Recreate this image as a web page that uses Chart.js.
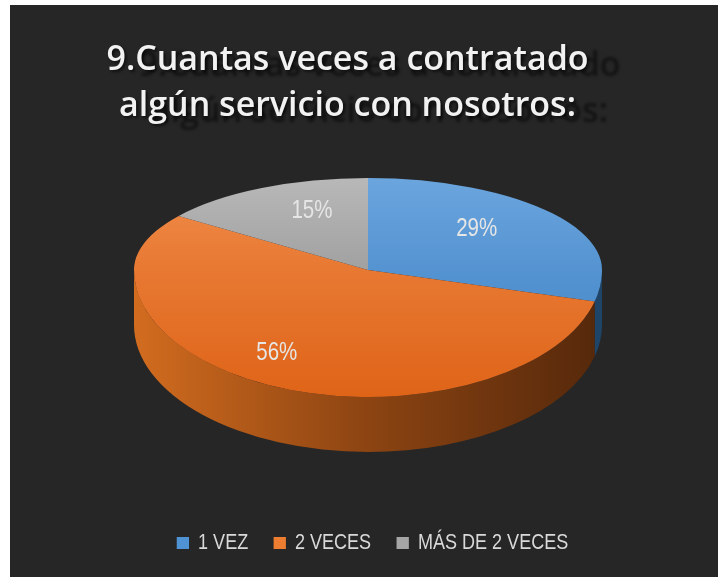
<!DOCTYPE html>
<html>
<head>
<meta charset="utf-8">
<script src="https://cdn.jsdelivr.net/npm/chart.js@4.4.1/dist/chart.umd.min.js"></script>
<style>
  html, body { margin: 0; padding: 0; background: #ffffff; width: 718px; height: 577px; overflow: hidden; }
  #wrap { position: absolute; left: 10px; top: 5px; width: 708px; height: 572px; background: #262626; }
  #chart { position: absolute; left: 0; top: 0; }
  #title {
    position: absolute; left: 0; top: 29px; width: 675px; z-index: 2;
    text-align: center; color: #f2f2f2;
    font-family: 'Open Sans', 'Noto Sans', sans-serif; font-weight: 600;
    font-size: 34px; line-height: 46px;
    text-shadow: 32px 6px 3px rgba(0,0,0,0.5), 2px 2px 3px rgba(0,0,0,0.6);
  }
</style>
</head>
<body>
<div id="wrap">
  <div id="title">9.Cuantas veces a contratado<br>algún servicio con nosotros:</div>
  <canvas id="chart" width="708" height="572"></canvas>
</div>
<script>
// ---- data ----
const categories = ['1 VEZ', '2 VECES', 'MÁS DE 2 VECES'];
const values = [29, 56, 15];

// ---- styles ----
const legendColors = ['#4f93d5', '#ed7d31', '#a5a5a5'];
const topGradients = [
  ['#6ba5de', '#3e82c4'],
  ['#f08d4c', '#df6418'],
  ['#b8b8b8', '#8a8a8a']
];
const sideGradients = [
  ['#3f78b0', '#2a5a88', '#1e4468'],
  ['#d26c1f', '#8c4412', '#55280b'],
  ['#8a8a8a', '#666666', '#4a4a4a']
];
const narrow = 0.82;   // horizontal squeeze of text (narrow font look)

// 3D view of the pie (canvas coordinates)
const view = { cx: 358, cy: 265, rx: 234, ryTop: 92, ryBottom: 127, depth: 55, labelFrac: 0.72, persp: 0.3 };

function topFill(context) {
  const chart = context.chart;
  const a = chart.chartArea;
  const i = context.dataIndex;
  if (!a) return legendColors[i];
  const cy = (a.top + a.bottom) / 2;
  const r = Math.min(a.width, a.height) / 2;
  const g = chart.ctx.createLinearGradient(0, cy - r, 0, cy + r);
  g.addColorStop(0, topGradients[i][0]);
  g.addColorStop(1, topGradients[i][1]);
  return g;
}

const pie3d = {
  id: 'pie3d',
  afterLayout(chart) {
    const lg = chart.legend;
    if (lg && !lg._narrowPatched) {
      const orig = lg.draw;
      lg.draw = function (area) {
        const ctx = chart.ctx;
        const cx = (this.left + this.right) / 2;
        ctx.save();
        ctx.translate(cx, 0);
        ctx.scale(narrow, 1);
        ctx.translate(-cx, 0);
        orig.call(this, area);
        ctx.restore();
      };
      lg._narrowPatched = true;
    }
  },
  beforeDatasetDraw(chart, args) {
    const meta = args.meta;
    const ctx = chart.ctx;
    const arcs = meta.data;
    if (!arcs.length) return;
    const ax = arcs[0].x, ay = arcs[0].y, r = arcs[0].outerRadius;
    const v = view;

    // side walls (front half only: angles 0..PI)
    arcs.forEach((arc, i) => {
      const s = Math.max(arc.startAngle, 0);
      const e = Math.min(arc.endAngle, Math.PI);
      if (e <= s) return;
      const g = ctx.createLinearGradient(v.cx - v.rx, 0, v.cx + v.rx, 0);
      g.addColorStop(0, sideGradients[i][0]);
      g.addColorStop(0.5, sideGradients[i][1]);
      g.addColorStop(1, sideGradients[i][2]);
      ctx.save();
      ctx.beginPath();
      ctx.ellipse(v.cx, v.cy, v.rx, v.ryBottom, 0, s, e, false);
      ctx.ellipse(v.cx, v.cy + v.depth, v.rx, v.ryBottom, 0, e, s, true);
      ctx.closePath();
      ctx.fillStyle = g;
      ctx.fill();
      ctx.restore();
    });

    // top face: upper half and lower half with different tilt
    const halves = [
      { y0: 0, y1: v.cy, ry: v.ryTop },
      { y0: v.cy, y1: chart.height, ry: v.ryBottom }
    ];
    halves.forEach(h => {
      ctx.save();
      ctx.beginPath();
      ctx.rect(0, h.y0, chart.width, h.y1 - h.y0);
      ctx.clip();
      ctx.translate(v.cx, v.cy);
      ctx.scale(v.rx / r, h.ry / r);
      ctx.translate(-ax, -ay);
      arcs.forEach(arc => arc.draw(ctx, chart.chartArea));
      ctx.restore();
    });
    return false;
  },
  afterDatasetsDraw(chart) {
    const meta = chart.getDatasetMeta(0);
    const ctx = chart.ctx;
    const v = view;
    const data = chart.data.datasets[0].data;
    const total = data.reduce((a, b) => a + b, 0);
    meta.data.forEach((arc, i) => {
      const mid = (arc.startAngle + arc.endAngle) / 2;
      const sn = Math.sin(mid);
      const px = v.cx + v.rx * v.labelFrac * Math.cos(mid) * (1 + v.persp * sn);
      const py = v.cy + (sn > 0 ? v.ryBottom : v.ryTop) * v.labelFrac * sn;
      ctx.save();
      ctx.translate(px, py);
      ctx.scale(narrow, 1);
      ctx.font = "25px 'Liberation Sans', Arial, sans-serif";
      ctx.fillStyle = '#e6e6e6';
      ctx.textAlign = 'center';
      ctx.textBaseline = 'middle';
      ctx.fillText(Math.round(data[i] / total * 100) + '%', 0, 0);
      ctx.restore();
    });
  }
};

new Chart(document.getElementById('chart'), {
  type: 'pie',
  data: {
    labels: categories,
    datasets: [{
      data: values,
      backgroundColor: topFill,
      borderWidth: 0
    }]
  },
  options: {
    responsive: false,
    animation: false,
    events: [],
    layout: { padding: { left: 17, right: 0, top: 0, bottom: 13 } },
    plugins: {
      tooltip: { enabled: false },
      title: { display: false },
      legend: {
        position: 'bottom',
        labels: {
          color: '#d9d9d9',
          font: { family: "'Liberation Sans', Arial, sans-serif", size: 22 },
          boxWidth: 15,
          boxHeight: 12,
          padding: 31,
          generateLabels: (chart) => categories.map((c, i) => ({
            text: c,
            fillStyle: legendColors[i],
            strokeStyle: legendColors[i],
            lineWidth: 0,
            fontColor: '#d9d9d9',
            index: i,
            hidden: false
          }))
        }
      }
    }
  },
  plugins: [pie3d]
});
</script>
</body>
</html>
